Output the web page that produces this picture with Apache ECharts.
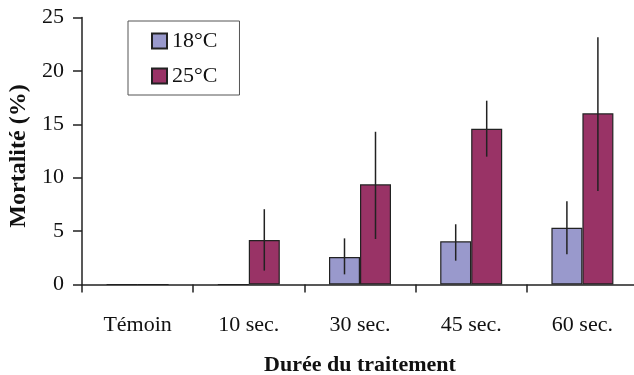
<!DOCTYPE html>
<html>
<head>
<meta charset="utf-8">
<script src="https://cdn.jsdelivr.net/npm/echarts@6/dist/echarts.min.js"></script>
<style>
html,body{margin:0;padding:0;background:#fff;}
#chart{width:634px;height:375px;}
</style>
</head>
<body>
<div id="chart"></div>
<script>
var categories = ['Témoin', '10 sec.', '30 sec.', '45 sec.', '60 sec.'];
var seriesNames = ['18°C', '25°C'];
var values18 = [0, 0, 2.57, 4.04, 5.32];
var values25 = [0, 4.17, 9.38, 14.59, 16.03];
var errLow18 = [null, null, 0.95, 2.23, 2.83];
var errHigh18 = [null, null, 4.32, 5.64, 7.79];
var errLow25 = [null, 1.3, 4.26, 11.97, 8.75];
var errHigh25 = [null, 7.05, 14.3, 17.21, 23.15];
var yTicks = [0, 5, 10, 15, 20, 25];

var FONT = '"Liberation Serif", "Times New Roman", serif';
var FS = 22;
var BAR_W = 31;

function errData(lo, hi) {
  var out = [];
  for (var i = 0; i < categories.length; i++) {
    if (lo[i] != null && hi[i] != null) out.push([i, lo[i], hi[i]]);
  }
  return out;
}

function errSeries(lo, hi, side) {
  return {
    type: 'custom',
    silent: true,
    z: 10,
    data: errData(lo, hi),
    encode: { x: 0, y: [1, 2] },
    renderItem: function (params, api) {
      var c = api.value(0);
      var p1 = api.coord([c, api.value(1)]);
      var p2 = api.coord([c, api.value(2)]);
      var dx = side * BAR_W / 2;
      return {
        type: 'line',
        shape: { x1: p1[0] + dx, y1: p1[1], x2: p2[0] + dx, y2: p2[1] },
        style: { stroke: '#222', lineWidth: 1.5 }
      };
    }
  };
}

var chart = echarts.init(document.getElementById('chart'), null, { renderer: 'canvas' });
chart.setOption({
  animation: false,
  backgroundColor: '#fff',
  textStyle: { fontFamily: FONT },
  grid: { left: 82, top: 17.5, width: 556, height: 267, containLabel: false, outerBoundsMode: 'none' },
  legend: {
    orient: 'vertical',
    left: 128,
    top: 21,
    data: seriesNames,
    itemWidth: 15,
    itemHeight: 15,
    itemGap: 13,
    padding: [9, 22, 8, 23],
    borderColor: '#555',
    borderWidth: 1,
    icon: 'rect',
    textStyle: { fontFamily: FONT, fontSize: FS, color: '#111', lineHeight: 22 }
  },
  xAxis: {
    type: 'category',
    data: categories,
    boundaryGap: true,
    name: 'Durée du traitement',
    nameLocation: 'middle',
    nameGap: 70,
    nameTextStyle: { fontFamily: FONT, fontSize: FS, fontWeight: 'bold', color: '#111' },
    axisLine: { lineStyle: { color: '#222', width: 1.5 } },
    axisTick: { show: true, interval: 0, length: 8, lineStyle: { color: '#222', width: 1.5 } },
    axisLabel: { fontFamily: FONT, fontSize: FS, color: '#111', margin: 30, interval: 0 },
    splitLine: { show: false }
  },
  yAxis: {
    type: 'value',
    min: 0,
    max: 25,
    interval: 5,
    name: 'Mortalité (%)',
    nameLocation: 'middle',
    nameGap: 49,
    nameRotate: 90,
    nameTextStyle: { fontFamily: FONT, fontSize: 24, fontWeight: 'bold', color: '#111', padding: [0, 10, 0, 0] },
    axisLine: { show: true, lineStyle: { color: '#222', width: 1.5 } },
    axisTick: { show: true, length: 9, lineStyle: { color: '#222', width: 1.5 } },
    axisLabel: {
      fontFamily: FONT, fontSize: FS, color: '#111', margin: 18,
      formatter: function (v) { return yTicks.indexOf(v) >= 0 ? String(v) : ''; }
    },
    splitLine: { show: false }
  },
  series: [
    {
      name: seriesNames[0],
      type: 'bar',
      data: values18,
      barWidth: BAR_W,
      barGap: '0%',
      itemStyle: { color: '#9999cc', borderColor: '#222', borderWidth: 1.2 }
    },
    {
      name: seriesNames[1],
      type: 'bar',
      data: values25,
      barWidth: BAR_W,
      barGap: '0%',
      itemStyle: { color: '#993366', borderColor: '#222', borderWidth: 1.2 }
    },
    errSeries(errLow18, errHigh18, -1),
    errSeries(errLow25, errHigh25, 1)
  ]
});
</script>
</body>
</html>
